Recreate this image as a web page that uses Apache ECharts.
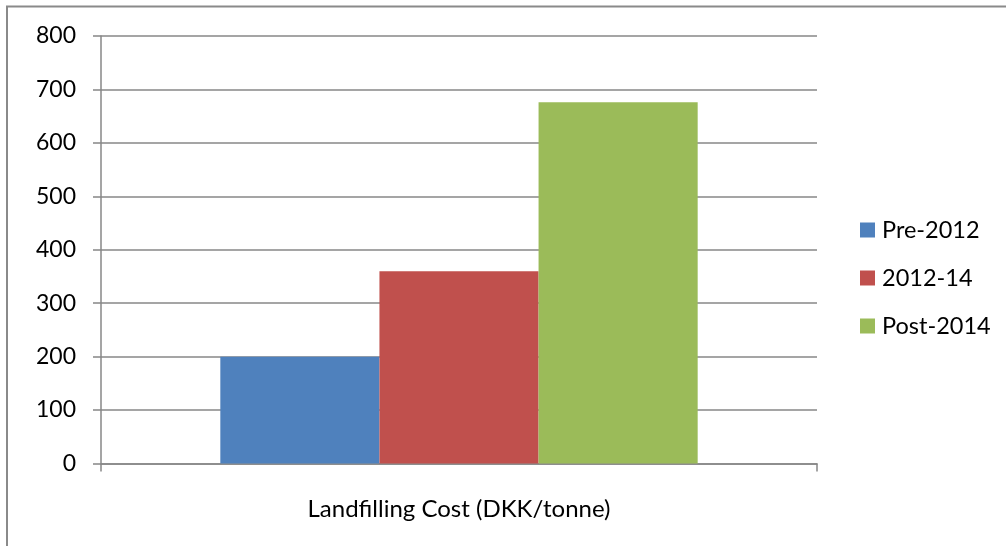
<!DOCTYPE html>
<html>
<head>
<meta charset="utf-8">
<script src="https://cdn.jsdelivr.net/npm/echarts@6/dist/echarts.min.js"></script>
<style>
html,body{margin:0;padding:0;background:#fff;}
#chart{width:1006px;height:546px;}
</style>
</head>
<body>
<div id="chart"></div>
<script>
const categories = ['Landfilling Cost (DKK/tonne)'];
const seriesNames = ['Pre-2012', '2012-14', 'Post-2014'];
const pre2012 = [200];
const y2012_14 = [360];
const post2014 = [676];
const colors = ['#4f81bd', '#c0504d', '#9bbb59'];

const FONT = 'Lato';
const axisGray = '#878787';

const chart = echarts.init(document.getElementById('chart'));
const values = [pre2012, y2012_14, post2014];
chart.setOption({
  animation: false,
  backgroundColor: '#ffffff',
  textStyle: { fontFamily: FONT },
  graphic: [{
    type: 'rect',
    shape: { x: 7, y: 6.5, width: 1100, height: 600 },
    style: { fill: 'none', stroke: '#8a8a8a', lineWidth: 2 },
    silent: true
  }],
  grid: { left: 101, right: 189, top: 36, bottom: 82.5 },
  legend: {
    orient: 'vertical',
    left: 860,
    top: 218,
    padding: 0,
    itemWidth: 15,
    itemHeight: 15,
    itemGap: 24,
    icon: 'rect',
    textStyle: { fontFamily: FONT, fontSize: 23.5, color: '#000', lineHeight: 23, padding: [0, 0, 0, 2] },
    data: seriesNames
  },
  xAxis: {
    type: 'category',
    data: categories,
    axisLine: { lineStyle: { color: axisGray, width: 1.5 } },
    axisTick: { show: true, length: 8, lineStyle: { color: axisGray, width: 1.5 } },
    axisLabel: { fontFamily: FONT, fontSize: 24, color: '#000', margin: 34 },
    splitLine: { show: false }
  },
  yAxis: {
    type: 'value',
    min: 0,
    max: 800,
    interval: 100,
    axisLine: { show: true, lineStyle: { color: axisGray, width: 1.5 } },
    axisTick: { show: true, length: 8, lineStyle: { color: axisGray, width: 1.5 } },
    axisLabel: { fontFamily: FONT, fontSize: 23, color: '#000', margin: 25 },
    splitLine: { show: true, lineStyle: { color: axisGray, width: 1.5 } }
  },
  series: seriesNames.map((n, i) => ({
    name: n,
    type: 'bar',
    data: values[i],
    barGap: '0%',
    barCategoryGap: '33.33%',
    itemStyle: { color: colors[i] }
  }))
});
</script>
</body>
</html>
